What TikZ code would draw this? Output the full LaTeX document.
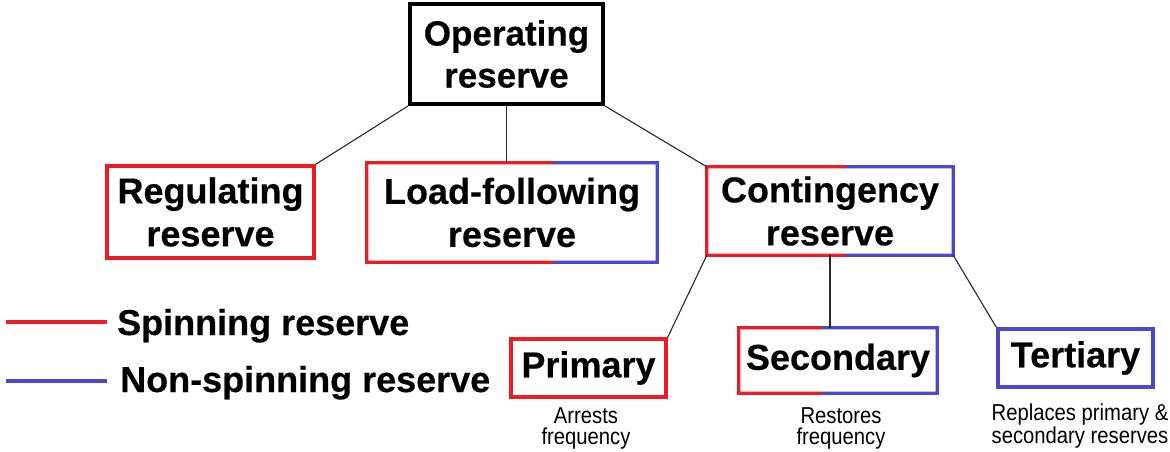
\documentclass[tikz,border=0pt]{standalone}
\usepackage{fontspec}
\setmainfont{Liberation Sans}
\newfontfamily\narrowsans[FakeStretch=0.88]{Liberation Sans}
\newfontfamily\heavysans[BoldFeatures={FakeBold=0.35}]{Liberation Sans}
\usetikzlibrary{calc}
\definecolor{spinred}{RGB}{237,28,36}
\definecolor{nonspinblue}{RGB}{72,72,208}
\definecolor{linkgray}{RGB}{40,40,40}
\tikzset{
  boxtext/.style={inner sep=0pt, align=center, font=\heavysans\bfseries\fontsize{36}{43}\selectfont},
  topbox/.style={boxtext, font=\heavysans\bfseries\fontsize{35}{42}\selectfont, draw=black, line width=4pt},
  redbox/.style={boxtext, draw=spinred, line width=3.3pt},
  bluebox/.style={boxtext, draw=nonspinblue, line width=3.3pt},
  spinedge/.style={draw=spinred, line width=3.3pt, line join=miter},
  nonspinedge/.style={draw=nonspinblue, line width=3.3pt, line join=miter},
  link/.style={draw=linkgray, line width=1.1pt},
  note/.style={inner sep=0pt, align=center, anchor=north,
    font=\narrowsans\fontsize{23}{21}\selectfont},
  legendtext/.style={inner sep=0pt, anchor=base west,
    font=\heavysans\bfseries\fontsize{36}{40}\selectfont},
  legendline/.style={line width=3.5pt},
}
\begin{document}
\begin{tikzpicture}[x=1pt,y=-1pt]
  \useasboundingbox[fill=white] (0,0) rectangle (1170,452);

  % hierarchy boxes
  \node[topbox, minimum width=193pt, minimum height=100pt] (op) at (506.5,54) {Operating\\reserve};
  \node[redbox, minimum width=207pt, minimum height=92pt] (reg) at (210.5,212) {Regulating\\reserve};
  \node[boxtext, minimum width=290pt, minimum height=99pt] (load) at (512,212.5) {Load-following\\reserve};
  \node[boxtext, minimum width=246pt, minimum height=88pt] (cont) at (830,211) {Contingency\\reserve};
  \node[redbox, minimum width=155pt, minimum height=58pt] (prim) at (588.5,368) {Primary};
  \node[boxtext, minimum width=198pt, minimum height=65pt] (sec) at (838,360.5) {Secondary};
  \node[bluebox, minimum width=155pt, minimum height=58pt] (ter) at (1075.5,358) {Tertiary};

  % two-colour borders: spinning part on the left, non-spinning on the right
  \foreach \b/\f in {load/0.641, cont/0.565, sec/0.419} {
    \coordinate (\b-ts) at ($(\b.north west)!\f!(\b.north east)$);
    \coordinate (\b-bs) at ($(\b.south west)!\f!(\b.south east)$);
    \draw[spinedge] (\b-ts) -- (\b.north west) -- (\b.south west) -- (\b-bs);
    \draw[nonspinedge] (\b-ts) -- (\b.north east) -- (\b.south east) -- (\b-bs);
  }

  % connectors
  \draw[link] (op.south west) -- (reg.north east);
  \draw[link] (op.south) -- (op.south |- load.north);
  \draw[link] (op.south east) -- (cont.north west);
  \draw[link] (cont.south west) -- (prim.north east);
  \draw[link] (cont.south) -- (cont.south |- sec.north);
  \draw[link] (cont.south east) -- (ter.north west);

  % descriptions
  \node[note] (primnote) at (586,407) {Arrests\\frequency};
  \node[note] (secnote) at (841,407) {Restores\\frequency};
  \node[note] (ternote) at (1080,404) {Replaces primary \&\\secondary reserves};

  % legend
  \coordinate (spinA) at (6,322);
  \coordinate (spinB) at (107,322);
  \coordinate (nonA) at (6,381);
  \coordinate (nonB) at (107,381);
  \draw[legendline, spinred] (spinA) -- (spinB);
  \draw[legendline, nonspinblue] (nonA) -- (nonB);
  \node[legendtext] (spinlabel) at (117,335) {Spinning reserve};
  \node[legendtext] (nonlabel) at (120,392) {Non-spinning reserve};
\end{tikzpicture}
\end{document}
